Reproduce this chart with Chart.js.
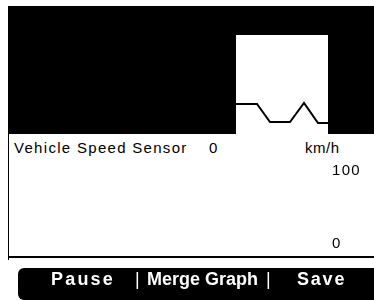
<!DOCTYPE html>
<html>
<head>
<meta charset="utf-8">
<script src="https://cdn.jsdelivr.net/npm/chart.js@4"></script>
<style>
    body { margin: 0; width: 374px; height: 300px; background: #fff; overflow: hidden; position: relative; font-family: "Liberation Sans", Arial, sans-serif; }
    .abs { position: absolute; }
    #topPanel { left: 8px; top: 6px; width: 366px; height: 128px; background: #000; }
    #window { left: 236px; top: 35px; width: 92px; height: 99px; background: #fff; }
    #leftRule { left: 8px; top: 134px; width: 1px; height: 126px; background: #000; }
    .txt { font-size: 15px; letter-spacing: 1.3px; color: #000; line-height: 15px; white-space: nowrap; }
    #bar { left: 18px; top: 268px; width: 356px; height: 32px; background: #000; border-radius: 6px 0 0 6px; }
    .btn { color: #fff; font-weight: bold; font-size: 18px; line-height: 18px; top: 270px; white-space: nowrap; }
    #speedBox { left: 8px; top: 150px; width: 366px; height: 112px; }
</style>
</head>
<body>
<div class="abs" id="topPanel"></div>
<div class="abs" id="window"></div>
<div class="abs" style="left:236px;top:35px;width:92px;height:100px;"><canvas id="windowChart"></canvas></div>
<div class="abs" id="leftRule"></div>
<div class="abs txt" style="left:14px;top:140px;">Vehicle Speed Sensor</div>
<div class="abs txt" style="left:209px;top:140px;">0</div>
<div class="abs txt" style="left:305px;top:140px;letter-spacing:0.5px;">km/h</div>
<div class="abs" id="speedBox"><canvas id="speedChart"></canvas></div>
<div class="abs" id="bar"></div>
<div class="abs btn" style="left:51px;letter-spacing:2.2px;">Pause</div>
<div class="abs btn" style="left:135px;font-weight:normal;">|</div>
<div class="abs btn" style="left:147px;">Merge Graph</div>
<div class="abs btn" style="left:266px;font-weight:normal;">|</div>
<div class="abs btn" style="left:297px;letter-spacing:1.8px;">Save</div>
<script>
// small graph window (trace shape)
const windowX = [0, 21, 34, 54, 68, 82, 92];
const windowY = [31, 31, 13, 13, 32, 12, 12];

// speed graph, km/h
const speedX = [0, 10, 20, 30, 40, 50, 60];
const speedY = [0, 0, 0, 0, 0, 0, 0];
const speedTicks = [0, 100];

function pairs(xs, ys) {
    return xs.map(function(x, i) { return { x: x, y: ys[i] }; });
}

// Window trace
new Chart(document.getElementById('windowChart'), {
    type: 'line',
    data: {
        datasets: [{
            data: pairs(windowX, windowY),
            borderColor: '#000',
            borderWidth: 2,
            pointRadius: 0,
            tension: 0,
            clip: false
        }]
    },
    options: {
        responsive: true,
        maintainAspectRatio: false,
        animation: false,
        layout: { padding: 0 },
        plugins: { legend: { display: false }, tooltip: { enabled: false } },
        scales: {
            x: { type: 'linear', display: false, min: 0, max: 92 },
            y: { display: false, min: 0, max: 100 }
        }
    }
});

// Vehicle speed trace
const speedChart = new Chart(document.getElementById('speedChart'), {
    type: 'line',
    data: {
        datasets: [{
            data: pairs(speedX, speedY),
            borderColor: '#000',
            borderWidth: 2,
            pointRadius: 0,
            tension: 0,
            clip: false
        }]
    },
    options: {
        responsive: true,
        maintainAspectRatio: false,
        animation: false,
        layout: { padding: { top: 34, bottom: 5, left: 0, right: 0 } },
        plugins: { legend: { display: false }, tooltip: { enabled: false } },
        scales: {
            x: { type: 'linear', display: false, min: 0, max: 60 },
            y: { display: false, min: 0, max: 100 }
        }
    }
});

// scale labels, placed from the y scale (they sit just above their value)
const yScale = speedChart.scales.y;
speedTicks.forEach(function(v) {
    const lbl = document.createElement('div');
    lbl.className = 'abs txt';
    lbl.style.left = '332px';
    lbl.style.top = (150 + yScale.getPixelForValue(v) - 22) + 'px';
    lbl.textContent = v;
    document.body.appendChild(lbl);
});
</script>
</body>
</html>
